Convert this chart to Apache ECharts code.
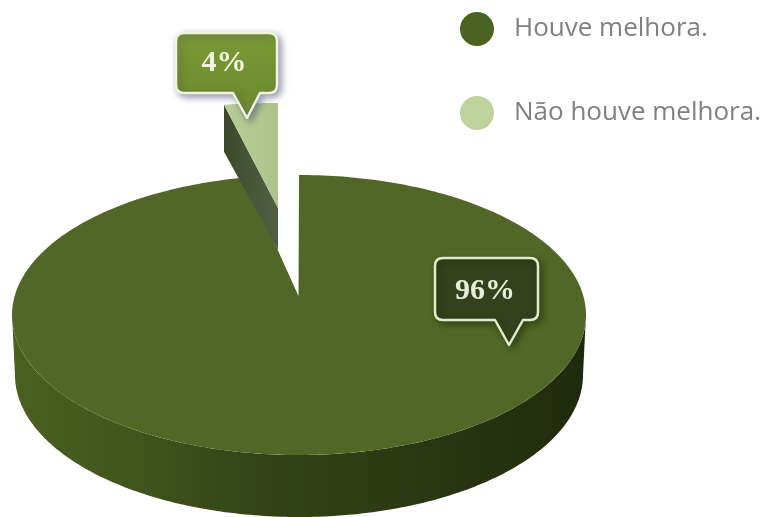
<!DOCTYPE html>
<html>
<head>
<meta charset="utf-8">
<style>html,body{margin:0;padding:0;background:#fff}#c{width:766px;height:517px}</style>
<script src="https://cdn.jsdelivr.net/npm/echarts@6/dist/echarts.min.js"></script>
</head>
<body>
<div id="c"></div>
<script>
var labels = ['Houve melhora.', 'Não houve melhora.'];
var improved = [96];
var notImproved = [4];

var total = improved[0] + notImproved[0];
var TOP = {cx: 299, cy: 315, rx: 287, ry: 140, ax: 298.5, ay: 296};
var BASE = {cx: 299, cy: 375, rx: 284, ry: 142};
var PIECE = {ax: 278, ay: 208, rx: 287, h: 105, depthL: 47, depthR: 42};
var TILT = 0.746;
var G = echarts.graphic;

function tiltAngle(share) {
  return Math.atan(Math.tan(share * 2 * Math.PI) * TILT);
}
function grad(stops) {
  return new G.LinearGradient(0, 0, 1, 0, stops.map(function (s) { return {offset: s[0], color: s[1]}; }));
}
function bubblePath(x0, y0, x1, y1, r, bx0, bx1, tx, ty) {
  return 'M' + (x0 + r) + ' ' + y0 + 'L' + (x1 - r) + ' ' + y0 +
    'Q' + x1 + ' ' + y0 + ' ' + x1 + ' ' + (y0 + r) + 'L' + x1 + ' ' + (y1 - r) +
    'Q' + x1 + ' ' + y1 + ' ' + (x1 - r) + ' ' + y1 + 'L' + bx1 + ' ' + y1 +
    'L' + tx + ' ' + ty + 'L' + bx0 + ' ' + y1 + 'L' + (x0 + r) + ' ' + y1 +
    'Q' + x0 + ' ' + y1 + ' ' + x0 + ' ' + (y1 - r) + 'L' + x0 + ' ' + (y0 + r) +
    'Q' + x0 + ' ' + y0 + ' ' + (x0 + r) + ' ' + y0 + 'Z';
}
function bubble(b, text) {
  return [{
    type: 'path',
    shape: {
      pathData: bubblePath(b.x0, b.y0, b.x1, b.y1, 8, b.bx0, b.bx1, b.tx, b.ty),
      x: b.x0, y: b.y0, width: b.x1 - b.x0, height: b.ty - b.y0, layout: 'cover'
    },
    style: {
      fill: b.fill, stroke: b.stroke, lineWidth: 2.5, lineJoin: 'round',
      shadowBlur: 7, shadowColor: b.shadow, shadowOffsetX: 3, shadowOffsetY: 3
    }
  }, {
    type: 'text',
    style: {
      x: b.lx, y: b.ly, text: text, fill: b.textFill, align: 'center', verticalAlign: 'middle',
      font: 'bold 30px "Liberation Serif", serif'
    }
  }];
}

function renderMain(params, api) {
  var v = api.value(0);
  var tw = tiltAngle(notImproved[0] / total);
  var end = Math.PI * 2 - tw;
  var topPts = [[TOP.ax, TOP.ay]];
  for (var i = 0; i <= 360; i++) {
    var t = end * i / 360;
    topPts.push([TOP.cx + TOP.rx * Math.sin(t), TOP.cy - TOP.ry * Math.cos(t)]);
  }
  var sidePts = [];
  for (var a = 0; a <= 180; a++) {
    var r = a * Math.PI / 180;
    sidePts.push([TOP.cx + TOP.rx * Math.cos(r), TOP.cy + TOP.ry * Math.sin(r)]);
  }
  for (var b = 180; b >= 0; b--) {
    var q = b * Math.PI / 180;
    sidePts.push([BASE.cx + BASE.rx * Math.cos(q), BASE.cy + BASE.ry * Math.sin(q)]);
  }
  return {
    type: 'group',
    children: [{
      type: 'polygon',
      shape: {points: sidePts},
      style: {
        fill: grad([[0, '#4a5f20'], [0.2, '#42561c'], [0.42, '#344417'], [0.7, '#2b3812'], [0.95, '#232d0e'], [1, '#1f280c']])
      }
    }, {
      type: 'polygon',
      shape: {points: topPts},
      style: {fill: '#526627'}
    }].concat(bubble({
      x0: 435, y0: 258, x1: 538, y1: 320, bx0: 495, bx1: 523, tx: 509, ty: 345,
      fill: '#33421a', stroke: '#e3ebcf', shadow: 'rgba(30,40,10,0.55)',
      lx: 485, ly: 291, textFill: '#e8eedb'
    }, v + '%'))
  };
}

function renderPiece(params, api) {
  var v = api.value(0);
  var tw = tiltAngle(v / total);
  var topPts = [[PIECE.ax, PIECE.ay]];
  for (var i = 0; i <= 20; i++) {
    var t = -tw * i / 20;
    topPts.push([PIECE.ax + PIECE.rx * Math.sin(t), PIECE.ay - PIECE.h * Math.cos(t)]);
  }
  var rim = topPts[topPts.length - 1];
  return {
    type: 'group',
    children: [{
      type: 'polygon',
      shape: {points: [rim, [rim[0], rim[1] + PIECE.depthL], [PIECE.ax, PIECE.ay + PIECE.depthR], [PIECE.ax, PIECE.ay]]},
      style: {fill: grad([[0, '#3c4829'], [0.5, '#4a563a'], [1, '#525e40']])}
    }, {
      type: 'polygon',
      shape: {points: topPts},
      style: {fill: grad([[0, '#b9cd96'], [1, '#aec38b']])}
    }].concat(bubble({
      x0: 176, y0: 33, x1: 277, y1: 93, bx0: 233, bx1: 260, tx: 247, ty: 118,
      fill: new G.LinearGradient(0, 0, 0, 1, [{offset: 0, color: '#7a9a35'}, {offset: 1, color: '#6b892e'}]),
      stroke: '#f0f4de', shadow: 'rgba(70,70,110,0.55)',
      lx: 224, ly: 63, textFill: '#f1f4e3'
    }, v + '%'))
  };
}

var chart = echarts.init(document.getElementById('c'), null, {renderer: 'canvas'});
chart.setOption({
  backgroundColor: '#ffffff',
  animation: false,
  legend: {
    orient: 'vertical',
    left: 455,
    top: 7,
    itemWidth: 34,
    itemHeight: 34,
    itemGap: 50,
    icon: 'circle',
    selectedMode: false,
    data: labels,
    textStyle: {
      fontFamily: '"Open Sans", "Liberation Sans", sans-serif',
      fontSize: 26,
      color: '#808080',
      padding: [0, 0, 0, 15]
    }
  },
  series: [{
    name: labels[0],
    type: 'custom',
    coordinateSystem: 'none',
    silent: true,
    itemStyle: {color: '#4b6320'},
    data: [improved],
    renderItem: renderMain
  }, {
    name: labels[1],
    type: 'custom',
    coordinateSystem: 'none',
    silent: true,
    itemStyle: {color: '#bdd39b'},
    data: [notImproved],
    renderItem: renderPiece
  }]
});
</script>
</body>
</html>
